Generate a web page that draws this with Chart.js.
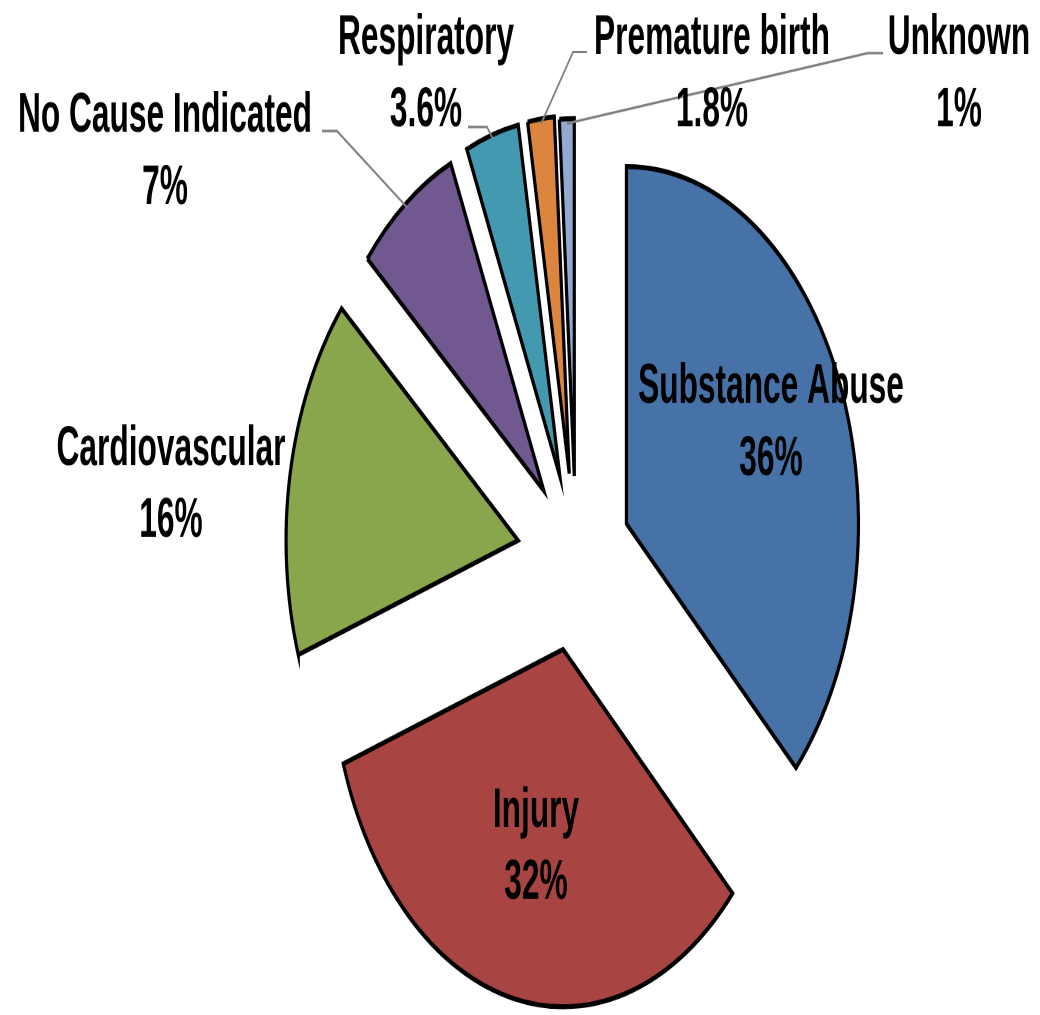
<!DOCTYPE html>
<html>
<head>
<meta charset="utf-8">
<script src="https://cdn.jsdelivr.net/npm/chart.js@4.4.1/dist/chart.umd.min.js"></script>
<style>
  html, body { margin: 0; padding: 0; background: #fff; }
  #page { width: 1040px; height: 1015px; position: relative; overflow: hidden; }
  /* the original picture is stretched tall, so the whole chart is too */
  #wrap { position: absolute; left: 0; top: 0; width: 1040px; height: 659px; transform-origin: 0 0; transform: scaleY(1.5402); }
</style>
</head>
<body>
<div id="page"><div id="wrap"><canvas id="pie-chart"></canvas></div></div>
<script>
const causes = ["Substance Abuse", "Injury", "Cardiovascular", "No Cause Indicated", "Respiratory", "Premature birth", "Unknown"];
const shares = [36, 32, 16, 7, 3.6, 1.8, 1];
const sliceColors = ["#4672A8", "#A84543", "#8AA64C", "#715890", "#4299B0", "#DC853F", "#94A9D0"];

// how far each slice is pulled out (px, before the stretch)
const explode = [55, 61, 59, 54, 55, 55, 53];
const R = 232;
const SY = 1015 / 659;

// label spot: centre x, baseline of first line (page px)
const labelSpots = [[771, 403], [536, 827], [171, 465], [165, 132], [426, 54], [712, 54], [959, 54]];
// leader lines: elbow then end (page px)
const leaders = {
  3: [[337, 131], [322, 131]],
  4: [[487, 127], [468, 127]],
  5: [[573, 52], [587, 52]],
  6: [[868, 53], [883, 53]]
};

const pieLabels = {
  id: "pieLabels",
  afterDatasetsUpdate(chart) {
    // chart.js grows exploded slices and trims their arc, undo both
    chart.getDatasetMeta(0).data.forEach((arc, i) => {
      const fix = 1 - Math.sin(Math.min(Math.PI, arc.circumference));
      const grow = explode[i] * fix;
      arc.outerRadius = R - grow;
      const widen = grow / (Math.PI * R);
      arc.startAngle -= widen / 2;
      arc.endAngle += widen / 2;
    });
  },
  afterDatasetsDraw(chart) {
    const ctx = chart.ctx;
    const arcs = chart.getDatasetMeta(0).data;
    ctx.save();
    ctx.strokeStyle = "#808080";
    ctx.lineWidth = 1.6;
    Object.keys(leaders).forEach((k) => {
      const arc = arcs[k];
      const mid = (arc.startAngle + arc.endAngle) / 2;
      const dist = R + explode[k] - 3;
      const px = arc.x + Math.cos(mid) * dist;
      const py = arc.y + Math.sin(mid) * dist;
      ctx.beginPath();
      ctx.moveTo(px, py);
      leaders[k].forEach((p) => ctx.lineTo(p[0], p[1] / SY));
      ctx.stroke();
    });

    ctx.fillStyle = "#000";
    ctx.font = "bold 36px 'Liberation Sans', Arial, sans-serif";
    ctx.textAlign = "center";
    ctx.textBaseline = "alphabetic";
    causes.forEach((name, i) => {
      const [x, y] = labelSpots[i];
      [name, shares[i] + "%"].forEach((txt, j) => {
        ctx.save();
        ctx.translate(x, (y + j * 72) / SY);
        ctx.scale(0.88, 1);
        ctx.fillText(txt, 0, 0);
        ctx.restore();
      });
    });
    ctx.restore();
  }
};

new Chart(document.getElementById("pie-chart"), {
  type: "pie",
  data: {
    labels: causes,
    datasets: [{
      data: shares,
      backgroundColor: sliceColors,
      borderColor: "#000",
      borderWidth: 3.2,
      borderJoinStyle: "miter",
      offset: explode.map((d) => d * 4),
      radius: R
    }]
  },
  options: {
    animation: false,
    events: [],
    responsive: true,
    maintainAspectRatio: false,
    devicePixelRatio: 2,
    radius: R,
    layout: { padding: { left: 112, right: 0, top: 65, bottom: 0 } },
    plugins: {
      legend: { display: false },
      tooltip: { enabled: false }
    }
  },
  plugins: [pieLabels]
});
</script>
</body>
</html>
